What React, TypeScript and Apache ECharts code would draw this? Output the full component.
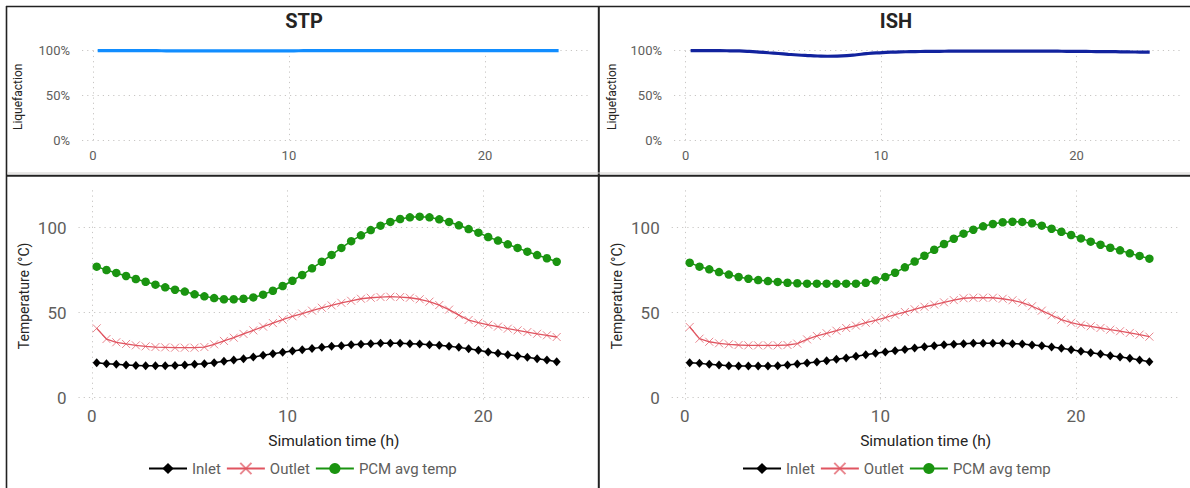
import React, { useEffect, useRef } from "react";
import * as echarts from "echarts";

// Simulation time (h) of every sample
const TIME_H = [
  0.25, 0.75, 1.25, 1.75, 2.25, 2.75, 3.25, 3.75, 4.25, 4.75, 5.25, 5.75,
  6.25, 6.75, 7.25, 7.75, 8.25, 8.75, 9.25, 9.75, 10.25, 10.75, 11.25, 11.75,
  12.25, 12.75, 13.25, 13.75, 14.25, 14.75, 15.25, 15.75, 16.25, 16.75, 17.25, 17.75,
  18.25, 18.75, 19.25, 19.75, 20.25, 20.75, 21.25, 21.75, 22.25, 22.75, 23.25, 23.75,
];

// Liquefaction (fraction)
const STP_LIQ = [
  1.0, 1.0, 1.0, 1.0, 1.0, 1.0, 1.0, 0.999, 0.999, 0.998, 0.998, 0.997,
  0.997, 0.997, 0.997, 0.997, 0.997, 0.998, 0.998, 0.999, 0.999, 1.0, 1.0, 1.0,
  1.0, 1.0, 1.0, 1.0, 1.0, 1.0, 1.0, 1.0, 1.0, 1.0, 1.0, 1.0,
  1.0, 1.0, 1.0, 1.0, 1.0, 1.0, 1.0, 1.0, 1.0, 1.0, 1.0, 1.0,
];
const ISH_LIQ = [
  1.0, 1.0, 1.0, 1.0, 0.999, 0.997, 0.992, 0.985, 0.977, 0.969, 0.96, 0.952,
  0.946, 0.941, 0.938, 0.939, 0.944, 0.955, 0.967, 0.976, 0.981, 0.985, 0.988, 0.99,
  0.992, 0.993, 0.994, 0.995, 0.995, 0.996, 0.996, 0.996, 0.996, 0.996, 0.996, 0.996,
  0.995, 0.995, 0.994, 0.993, 0.992, 0.991, 0.99, 0.989, 0.988, 0.986, 0.985, 0.983,
];

// Temperatures (°C)
const STP_INLET = [
  20.6, 20.0, 19.6, 19.2, 19.0, 18.8, 18.8, 18.8, 19.0, 19.2, 19.6, 20.0,
  20.6, 21.4, 22.2, 22.9, 23.9, 24.9, 25.9, 26.7, 27.5, 28.2, 29.0, 29.6,
  30.2, 30.6, 31.2, 31.4, 31.8, 32.0, 32.0, 32.0, 31.8, 31.6, 31.2, 30.8,
  30.2, 29.6, 28.8, 27.9, 26.9, 26.1, 25.3, 24.5, 23.8, 22.9, 22.2, 21.2,
];
const STP_OUTLET = [
  40.8, 34.5, 32.6, 31.6, 30.8, 30.2, 29.8, 29.6, 29.4, 29.4, 29.4, 29.8,
  31.4, 33.4, 35.3, 37.5, 39.6, 41.8, 43.9, 45.9, 47.9, 49.5, 51.2, 52.9,
  54.3, 55.8, 57.0, 58.2, 58.8, 59.2, 59.4, 59.2, 58.8, 57.9, 56.5, 54.5,
  51.8, 48.6, 45.7, 44.1, 42.9, 41.8, 40.6, 39.6, 38.6, 37.6, 36.7, 35.7,
];
const STP_PCM = [
  77.1, 75.1, 73.4, 71.6, 69.8, 68.2, 66.5, 64.9, 63.5, 62.4, 60.8, 59.6,
  58.6, 57.9, 57.9, 58.2, 59.0, 60.6, 62.9, 65.7, 68.8, 72.2, 76.1, 80.0,
  84.0, 88.1, 92.1, 95.5, 98.6, 101.2, 103.4, 105.1, 106.1, 106.5, 106.1, 104.9,
  103.4, 101.4, 99.2, 97.1, 94.5, 92.4, 90.2, 88.1, 85.9, 83.9, 82.0, 80.0,
];
const ISH_INLET = [
  20.6, 20.2, 19.6, 19.2, 18.8, 18.6, 18.6, 18.6, 18.6, 18.8, 19.2, 19.8,
  20.4, 21.0, 21.8, 22.6, 23.4, 24.4, 25.3, 26.1, 26.9, 27.6, 28.4, 29.2,
  29.9, 30.6, 31.1, 31.5, 31.8, 32.0, 32.0, 32.0, 32.0, 31.8, 31.6, 31.0,
  30.6, 29.8, 29.1, 28.2, 27.3, 26.5, 25.7, 24.7, 23.9, 23.2, 22.2, 21.2,
];
const ISH_OUTLET = [
  41.6, 34.7, 32.9, 32.0, 31.4, 31.0, 30.8, 30.8, 30.8, 30.8, 31.0, 31.8,
  34.3, 36.3, 37.9, 39.4, 41.0, 42.4, 44.1, 45.5, 47.1, 48.8, 50.4, 52.0,
  53.5, 54.8, 56.1, 57.4, 58.5, 58.8, 58.8, 58.8, 58.2, 57.3, 55.9, 53.8,
  51.2, 48.5, 45.9, 44.1, 42.9, 42.0, 41.0, 40.0, 39.1, 38.1, 37.1, 35.9,
];
const ISH_PCM = [
  79.4, 77.1, 75.5, 73.9, 72.4, 71.0, 70.0, 69.2, 68.6, 68.1, 67.6, 67.3,
  67.1, 67.1, 67.1, 67.1, 67.1, 67.1, 67.6, 69.1, 71.0, 73.5, 76.7, 80.1,
  83.5, 87.0, 90.4, 93.5, 96.5, 98.8, 100.8, 102.2, 103.2, 103.5, 103.4, 102.6,
  101.2, 99.4, 97.6, 95.7, 93.7, 91.8, 90.0, 88.2, 86.7, 84.9, 83.4, 81.8,
];

const PANEL_TITLES = ["STP", "ISH"];
const SERIES_NAMES = ["Inlet", "Outlet", "PCM avg temp"];
const X_TICKS = [0, 10, 20];
const LIQ_TICKS = [0, 0.5, 1];
const TEMP_TICKS = [0, 50, 100];
const X_NAME = "Simulation time (h)";
const LIQ_NAME = "Liquefaction";
const TEMP_NAME = "Temperature (°C)";

const FONT = "Roboto, 'Noto Sans', 'DejaVu Sans', sans-serif";
const GREY = "#605E5C";
const DARK = "#252423";
const GRID_LINE = { show: true, lineStyle: { color: "#C8C6C4", width: 1, type: [1.2, 4] as any } };

const C_STP = "#118DFF";
const C_ISH = "#12239E";
const C_IN = "#000000";
const C_OUT = "#E05460";
const C_PCM = "#1A9410";

const pairs = (ys: number[]) => TIME_H.map((t, i) => [t, ys[i]]);

function xAxis(gridIndex: number, min: number, max: number, fontSize: number, margin: number, withName: boolean) {
  return {
    type: "value",
    gridIndex,
    min,
    max,
    axisLine: { show: false },
    axisTick: { show: false, customValues: X_TICKS },
    axisLabel: { customValues: X_TICKS, color: GREY, fontSize, fontFamily: FONT, margin },
    splitLine: GRID_LINE,
    name: withName ? X_NAME : "",
    nameLocation: "middle",
    nameGap: 31,
    nameTextStyle: { color: DARK, fontSize: 15.5, fontFamily: FONT },
  };
}

function yAxis(gridIndex: number, min: number, max: number, ticks: number[], pct: boolean, name: string, nameGap: number, nameSize: number, labelSize: number) {
  return {
    type: "value",
    gridIndex,
    min,
    max,
    axisLine: { show: false },
    axisTick: { show: false, customValues: ticks },
    axisLabel: {
      customValues: ticks,
      color: GREY,
      fontSize: labelSize,
      fontFamily: FONT,
      margin: 12,
      formatter: (v: number) => (pct ? `${Math.round(v * 100)}%` : `${Math.round(v)}`),
    },
    splitLine: GRID_LINE,
    name,
    nameLocation: "middle",
    nameGap,
    nameTextStyle: { color: DARK, fontSize: nameSize, fontFamily: FONT },
  };
}

function tempSeries(idx: number, inlet: number[], outlet: number[], pcm: number[]) {
  return [
    {
      type: "line",
      name: SERIES_NAMES[0],
      xAxisIndex: idx,
      yAxisIndex: idx,
      data: pairs(inlet),
      symbol: "diamond",
      symbolSize: [8, 9],
      lineStyle: { color: C_IN, width: 1.5 },
      itemStyle: { color: C_IN },
      z: 3,
    },
    {
      type: "line",
      name: SERIES_NAMES[1],
      xAxisIndex: idx,
      yAxisIndex: idx,
      data: pairs(outlet),
      symbol: "path://M0,0L10,10M10,0L0,10",
      symbolSize: 8,
      lineStyle: { color: C_OUT, width: 1.3 },
      itemStyle: { color: "rgba(224,84,96,0)", borderColor: "rgba(224,84,96,0.7)", borderWidth: 1 },
      z: 3,
    },
    {
      type: "line",
      name: SERIES_NAMES[2],
      xAxisIndex: idx,
      yAxisIndex: idx,
      data: pairs(pcm),
      symbol: "circle",
      symbolSize: 8.5,
      lineStyle: { color: C_PCM, width: 1.5 },
      itemStyle: { color: C_PCM },
      z: 3,
    },
  ];
}

function legend(left: number) {
  return {
    left,
    top: 456,
    orient: "horizontal",
    data: SERIES_NAMES,
    itemWidth: 38,
    itemHeight: 14,
    itemGap: 5,
    selectedMode: false,
    textStyle: { color: GREY, fontSize: 15, fontFamily: FONT },
  };
}

export default function App() {
  const ref = useRef<HTMLDivElement>(null);

  useEffect(() => {
    if (!ref.current) return;
    const chart = echarts.init(ref.current, null, { renderer: "svg" });

    const border = { stroke: "#222222", lineWidth: 1.6 };

    const option: any = {
      animation: false,
      backgroundColor: "#ffffff",
      grid: [
        { left: 82, top: 50.7, width: 507, height: 92.3, containLabel: false },
        { left: 674, top: 50.7, width: 506, height: 92.3, containLabel: false },
        { left: 78.5, top: 190.3, width: 510.5, height: 211.3, containLabel: false },
        { left: 671.7, top: 190.3, width: 508, height: 211.3, containLabel: false },
      ],
      xAxis: [
        xAxis(0, -0.55, 25.3, 13, 6, false),
        xAxis(1, -0.6, 25.3, 13, 6, false),
        xAxis(2, -0.68, 25.4, 17, 6, true),
        xAxis(3, -0.67, 25.3, 17, 6, true),
      ],
      yAxis: [
        yAxis(0, -0.03, 1.0, LIQ_TICKS, true, LIQ_NAME, 58, 12, 13),
        yAxis(1, -0.03, 1.0, LIQ_TICKS, true, LIQ_NAME, 56, 12, 13),
        yAxis(2, -2.3, 122, TEMP_TICKS, false, TEMP_NAME, 48, 14, 17),
        yAxis(3, -2.3, 122, TEMP_TICKS, false, TEMP_NAME, 48, 14, 17),
      ],
      legend: [legend(143), legend(737)],
      series: [
        {
          type: "line",
          name: "STP liquefaction",
          xAxisIndex: 0,
          yAxisIndex: 0,
          data: pairs(STP_LIQ),
          smooth: true,
          showSymbol: false,
          lineStyle: { color: C_STP, width: 3.2 },
          itemStyle: { color: C_STP },
        },
        {
          type: "line",
          name: "ISH liquefaction",
          xAxisIndex: 1,
          yAxisIndex: 1,
          data: pairs(ISH_LIQ),
          smooth: true,
          showSymbol: false,
          lineStyle: { color: C_ISH, width: 3.2 },
          itemStyle: { color: C_ISH },
        },
        ...tempSeries(2, STP_INLET, STP_OUTLET, STP_PCM),
        ...tempSeries(3, ISH_INLET, ISH_OUTLET, ISH_PCM),
      ],
      graphic: [
        { type: "line", shape: { x1: 6, y1: 6.5, x2: 1190, y2: 6.5 }, style: border },
        { type: "line", shape: { x1: 6.5, y1: 6, x2: 6.5, y2: 488 }, style: border },
        { type: "line", shape: { x1: 598.8, y1: 6, x2: 598.8, y2: 488 }, style: { stroke: "#222222", lineWidth: 2 } },
        { type: "line", shape: { x1: 7, y1: 173, x2: 1190, y2: 173 }, style: { stroke: "#D2D0CE", lineWidth: 1 } },
        { type: "line", shape: { x1: 6, y1: 175.8, x2: 1190, y2: 175.8 }, style: { stroke: "#222222", lineWidth: 2 } },
        {
          type: "text",
          x: 304,
          y: 21,
          style: { text: PANEL_TITLES[0], fill: DARK, font: `bold 20px ${FONT}`, textAlign: "center", textVerticalAlign: "middle" },
        },
        {
          type: "text",
          x: 896,
          y: 21,
          style: { text: PANEL_TITLES[1], fill: DARK, font: `bold 20px ${FONT}`, textAlign: "center", textVerticalAlign: "middle" },
        },
      ],
    };

    chart.setOption(option);
    return () => chart.dispose();
  }, []);

  return (
    <div
      ref={ref}
      style={{ position: "absolute", left: 0, top: 0, width: 1190, height: 488, background: "#ffffff" }}
    />
  );
}
